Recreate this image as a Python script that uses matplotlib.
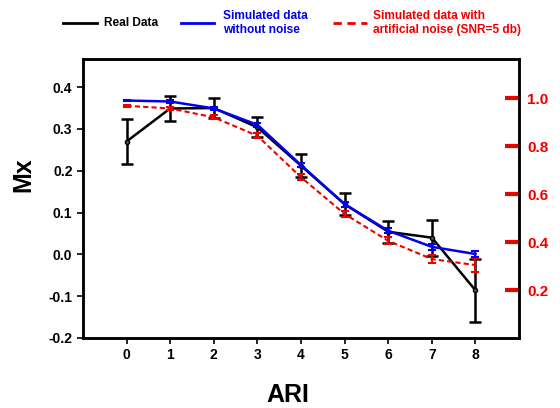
import matplotlib.pyplot as plt

plt.rcParams["font.family"] = ["Liberation Sans", "DejaVu Sans"]
plt.rcParams["font.weight"] = "bold"

ari = [0, 1, 2, 3, 4, 5, 6, 7, 8]

# real data, left axis (Mx)
real = [0.27, 0.349, 0.35, 0.304, 0.212, 0.12, 0.054, 0.040, -0.086]
real_err = [0.053, 0.031, 0.024, 0.024, 0.028, 0.026, 0.027, 0.043, 0.075]

# simulated, right axis
sim_clean = [0.99, 0.986, 0.957, 0.889, 0.721, 0.558, 0.447, 0.38, 0.35]
sim_clean_err = [0.004, 0.005, 0.006, 0.008, 0.010, 0.010, 0.010, 0.012, 0.014]
sim_noise = [0.968, 0.957, 0.92, 0.843, 0.67, 0.517, 0.405, 0.329, 0.304]
sim_noise_err = [0.005, 0.006, 0.008, 0.010, 0.012, 0.012, 0.014, 0.015, 0.028]

fig = plt.figure(figsize=(5.6, 4.08), dpi=100)
ax = fig.add_axes([0.148, 0.1716, 0.779, 0.6834])
ax2 = ax.twinx()

ax.errorbar(ari, real, yerr=real_err, color="black", lw=1.8, capsize=4,
            capthick=1.8, elinewidth=1.8, marker="o", ms=3, mfc="#555555", zorder=3)
ax2.errorbar(ari, sim_clean, yerr=sim_clean_err, color="#0000ee", lw=1.8,
             capsize=3, capthick=1.5, elinewidth=1.5, zorder=4)
ax2.errorbar(ari, sim_noise, yerr=sim_noise_err, color="#ee0000", lw=1.5,
             ls=(0, (2.5, 1.5)), capsize=3, capthick=1.5, elinewidth=1.5, zorder=3)

ax.set_xlim(-1, 9)
ax.set_ylim(-0.2, 0.467)
ax2.set_ylim(0, 1.1625)
ax.set_xticks(ari)
ax.set_yticks([-0.2, -0.1, 0.0, 0.1, 0.2, 0.3, 0.4])
ax.set_yticklabels(["-0.2", "-0.1", "0.0", "0.1", "0.2", "0.3", "0.4"])
ax2.set_yticks([0.2, 0.4, 0.6, 0.8, 1.0])
ax2.set_yticklabels(["0.2", "0.4", "0.6", "0.8", "1.0"])

for a in (ax, ax2):
    for s in a.spines.values():
        s.set_linewidth(1.8)
ax.tick_params(axis="both", labelsize=10, width=1.2, length=4)
ax2.tick_params(axis="y", direction="in", colors="#ee0000", labelcolor="#ee0000",
                width=3, length=10, labelsize=11, pad=6)
for lbl in ax.get_xticklabels() + ax.get_yticklabels() + ax2.get_yticklabels():
    lbl.set_fontweight("bold")

# axis titles placed in figure coords
fig.text(0.514, 0.032, "ARI", fontsize=18, fontweight="bold", ha="center", va="center")
fig.text(0.041, 0.571, "Mx", fontsize=18, fontweight="bold", ha="center", va="center",
         rotation=90)

# legend drawn above the frame
ly = 0.944
lkw = dict(transform=fig.transFigure, clip_on=False)
fig.add_artist(plt.Line2D([0.1125, 0.173], [ly, ly], color="black", lw=2, **lkw))
fig.text(0.186, ly, "Real Data", fontsize=8.6, fontweight="bold", va="center", color="black")
fig.add_artist(plt.Line2D([0.323, 0.382], [ly, ly], color="#0000ee", lw=2, **lkw))
fig.text(0.398, ly, "Simulated data\nwithout noise", fontsize=8.6, fontweight="bold",
         va="center", color="#0000ee", linespacing=1.25)
fig.add_artist(plt.Line2D([0.595, 0.655], [ly, ly], color="#ee0000", lw=2,
                          ls=(0, (3, 2)), **lkw))
fig.text(0.666, ly, "Simulated data with\nartificial noise (SNR=5 db)", fontsize=8.6,
         fontweight="bold", va="center", color="#ee0000", linespacing=1.25)

fig.savefig("out.png", dpi=100)
